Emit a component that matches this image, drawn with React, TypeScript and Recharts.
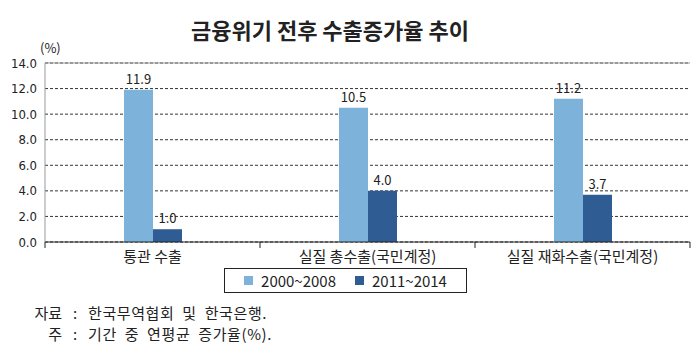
import { BarChart, Bar, XAxis, YAxis, CartesianGrid, ReferenceLine, LabelList } from "recharts";

const categories = ["통관 수출", "실질 총수출(국민계정)", "실질 재화수출(국민계정)"];
const before = [11.9, 10.5, 11.2];
const after = [1.0, 4.0, 3.7];
const yTicks = [0, 2, 4, 6, 8, 10, 12, 14];
const seriesNames = ["2000~2008", "2011~2014"];
const colors = ["#7db3da", "#2f5d93"];
const notes = [
  ["자료", "한국무역협회 및 한국은행."],
  ["주", "기간 중 연평균 증가율(%)."],
];

const data = categories.map((name, i) => ({ name, a: before[i], b: after[i] }));

const KR = "'Noto Sans CJK KR', 'Noto Sans', sans-serif";

const CatTick = (props: any) => {
  const { x, y, payload, index } = props;
  const half = payload?.offset ?? 107.5;
  return (
    <g>
      <line x1={x - half} y1={y - 8} x2={x - half} y2={y - 2} stroke="#222" />
      {index === categories.length - 1 && (
        <line x1={x + half} y1={y - 8} x2={x + half} y2={y - 2} stroke="#222" />
      )}
      <text x={x} y={y + 12} textAnchor="middle" fontSize={15} fill="#222" fontFamily={KR}>
        {payload.value}
      </text>
    </g>
  );
};

const App = () => {
  return (
    <div style={{ position: "relative", width: 697, height: 356, background: "#fff", fontFamily: KR }}>
      <style>{"body{margin:0}"}</style>
      <div style={{ position: "absolute", left: 0, width: 660, top: 13, textAlign: "center", fontSize: 22, fontWeight: 700, color: "#222" }}>
        금융위기 전후 수출증가율 추이
      </div>
      <div style={{ position: "absolute", left: 40, top: 38, fontSize: 13, color: "#222" }}>(%)</div>
      <BarChart
        width={697}
        height={356}
        data={data}
        margin={{ top: 63, right: 7, left: 0, bottom: 89 }}
        barGap={0}
        barSize={29}
      >
        <CartesianGrid vertical={false} stroke="#333" strokeDasharray="3 2" />
        <XAxis dataKey="name" axisLine={{ stroke: "#222" }} tickLine={false} tick={<CatTick />} height={25} interval={0} />
        <YAxis
          domain={[0, 14]}
          ticks={yTicks}
          tickFormatter={(v: number) => v.toFixed(1)}
          axisLine={{ stroke: "#999" }}
          tickLine={false}
          width={45}
          tick={{ fontSize: 13, fill: "#222", fontFamily: "'Liberation Sans Narrow', 'DejaVu Sans Condensed', sans-serif" }}
        />
        <YAxis yAxisId="r" orientation="right" domain={[0, 14]} axisLine={{ stroke: "#999" }} tick={false} tickLine={false} width={0} />
        <ReferenceLine y={14} stroke="#999" strokeDasharray="0" />
        <Bar dataKey="a" fill={colors[0]} isAnimationActive={false}>
          <LabelList dataKey="a" position="top" offset={6} formatter={(v: any) => Number(v).toFixed(1)} style={{ fontSize: 13, fill: "#222" }} />
        </Bar>
        <Bar dataKey="b" fill={colors[1]} isAnimationActive={false}>
          <LabelList dataKey="b" position="top" offset={6} formatter={(v: any) => Number(v).toFixed(1)} style={{ fontSize: 13, fill: "#222" }} />
        </Bar>
      </BarChart>
      <div
        style={{
          position: "absolute",
          left: 224,
          top: 268,
          width: 243,
          height: 25,
          border: "1px solid #222",
          boxSizing: "border-box",
          display: "flex",
          alignItems: "center",
          justifyContent: "center",
          gap: 19,
          fontSize: 15,
          color: "#222",
        }}
      >
        {seriesNames.map((n, i) => (
          <span key={n} style={{ display: "flex", alignItems: "center" }}>
            <span style={{ display: "inline-block", width: 9, height: 9, background: colors[i], marginRight: 8 }} />
            {n}
          </span>
        ))}
      </div>
      <div style={{ position: "absolute", left: 0, top: 302, fontSize: 15, color: "#222" }}>
        {notes.map(([k, v]) => (
          <div key={k} style={{ display: "flex", height: 21, lineHeight: "21px" }}>
            <span style={{ width: 62, textAlign: "right" }}>{k}</span>
            <span style={{ width: 26, textAlign: "center" }}>:</span>
            <span style={{ wordSpacing: 4, letterSpacing: 0.6 }}>{v}</span>
          </div>
        ))}
      </div>
    </div>
  );
};

export default App;
